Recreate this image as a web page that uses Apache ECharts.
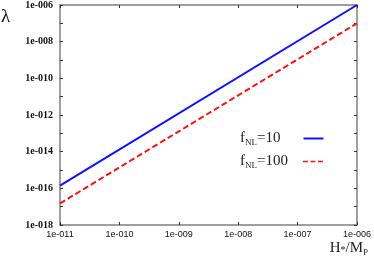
<!DOCTYPE html>
<html><head><meta charset="utf-8">
<script src="https://cdn.jsdelivr.net/npm/echarts@6/dist/echarts.min.js"></script>
<style>html,body{margin:0;padding:0;background:#fff}#c{width:374px;height:264px}</style>
</head><body><div id="c"></div>
<script>
const hValues = [1e-11, 1e-6];
const lambdaF10 = [1.4e-16, 1e-6];
const lambdaF100 = [1.5e-17, 1e-7];
const seriesNames = ['f{sub|NL}=10', 'f{sub|NL}=100'];

function expOf(v){ return Math.round(Math.log10(v)); }
function fmt(v){
  const e = expOf(v);
  return '1e' + (e < 0 ? '-' : '+') + String(Math.abs(e)).padStart(3,'0');
}
function fmtEven(v){ return expOf(v) % 2 === 0 ? fmt(v) : ''; }

const cv = document.createElement('canvas').getContext('2d');
function tw(font, s){ cv.font = font; return cv.measureText(s).width; }
const BOX = 58;
function legendFmt(name){
  const rest = name.split('}')[1];
  const w = tw('15px "Liberation Serif"', 'f') + tw('9px "Liberation Serif"', 'NL') + tw('15px "Liberation Serif"', rest);
  const gap = Math.max(1, Math.round(BOX - w));
  return name + '{g' + gap + '| }';
}
const richG = {};
for (let i = 0; i <= 40; i++) richG['g' + i] = {width: i, fontSize: 15};
const legendText = {fontFamily:'Liberation Serif', fontSize:15, color:'#222',
  rich:Object.assign({sub:{fontFamily:'Liberation Serif', fontSize:9, color:'#222', padding:[8,0,0,0]}}, richG)};

const axisLineStyle = {color:'#7f7f7f', width:1.5};
const chart = echarts.init(document.getElementById('c'), null, {renderer:'canvas'});
const xBase = {type:'log', logBase:10, min:1e-11, max:1e-6, interval:1,
  splitLine:{show:false}, axisLine:{show:true, lineStyle:axisLineStyle},
  axisTick:{show:true, inside:true, length:3, lineStyle:{color:'#333'}}};
const yBase = {type:'log', logBase:10, min:1e-18, max:1e-6, interval:1,
  splitLine:{show:false}, axisLine:{show:true, lineStyle:axisLineStyle},
  axisTick:{show:true, inside:true, length:3, interval:0, lineStyle:{color:'#333'}}};
const dashIcon = 'path://M0,0h6v2h-6z M9,0h6v2h-6z M18,0h6v2h-6z';
chart.setOption({
  animation:false,
  grid:{left:60, right:15, top:1, bottom:39},
  xAxis:[
    Object.assign({}, xBase, {position:'bottom',
      axisLabel:{formatter:fmt, fontFamily:'Liberation Sans', fontSize:9, color:'#111', margin:5}}),
    Object.assign({}, xBase, {position:'top', axisLabel:{show:false}})
  ],
  yAxis:[
    Object.assign({}, yBase, {position:'left',
      axisLabel:{formatter:fmtEven, fontFamily:'Liberation Serif', fontSize:10, fontWeight:'bold', color:'#111', margin:7}}),
    Object.assign({}, yBase, {position:'right', axisLabel:{show:false}})
  ],
  legend:[
    {orient:'horizontal', left:240, top:131, align:'right', itemWidth:20, itemHeight:2, padding:0,
     data:[{name:seriesNames[0], icon:'rect'}], formatter: legendFmt, textStyle:legendText},
    {orient:'horizontal', left:240, top:154, align:'right', itemWidth:20, itemHeight:2, padding:0,
     data:[{name:seriesNames[1], icon:dashIcon}], formatter: legendFmt, textStyle:legendText}
  ],
  graphic:[
    {type:'text', left:1, top:8, style:{text:'λ', font:'19px "Liberation Serif"', fill:'#111'}},
    {type:'text', right:6, top:241, style:{text:'H{sub|*}/M{sub2|P}', font:'15px "Liberation Serif"', fill:'#222',
      rich:{sub:{fontSize:10, padding:[4,0,0,0], fontFamily:'Liberation Serif'}, sub2:{fontSize:9, padding:[8,0,0,0], fontFamily:'Liberation Serif'}}}}
  ],
  series:[
    {name:seriesNames[0], type:'line', symbol:'none', data:hValues.map((h,i)=>[h, lambdaF10[i]]),
      lineStyle:{color:'#1010ff', width:2}, itemStyle:{color:'#1010ff'}},
    {name:seriesNames[1], type:'line', symbol:'none', data:hValues.map((h,i)=>[h, lambdaF100[i]]),
      lineStyle:{color:'#ff1010', width:2, type:[6,3]}, itemStyle:{color:'#ff1010'}}
  ]
});
</script></body></html>
